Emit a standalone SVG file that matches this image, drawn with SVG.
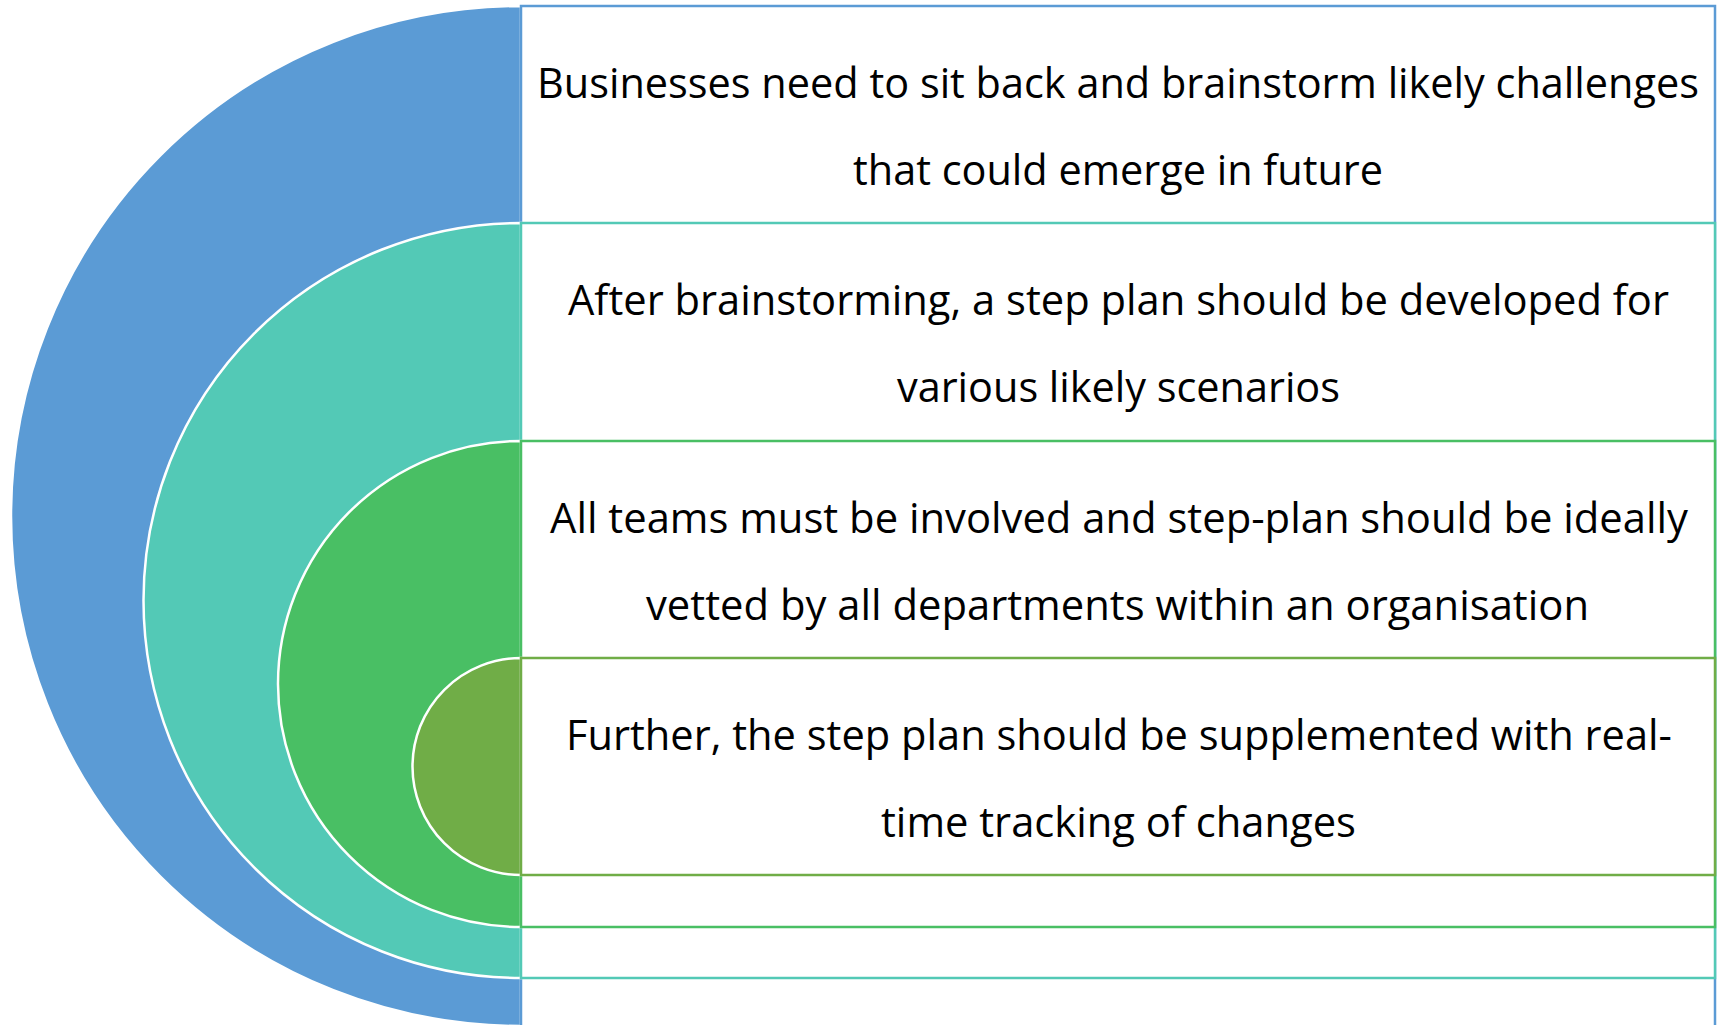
<svg xmlns="http://www.w3.org/2000/svg" width="1721" height="1025" viewBox="0 0 1721 1025">
<style>
.arc{stroke:#ffffff;stroke-width:2.5}
.box{fill:#ffffff;stroke-width:2.5}
.t{font-family:"Open Sans","Noto Sans","DejaVu Sans",sans-serif;font-size:42px;fill:#000000}
</style>
<rect x="0" y="0" width="1721" height="1025" fill="#ffffff"/>
<g id="node1">
<path class="arc" d="M521,6 A510,510 0 0 0 521,1026 Z" fill="#5B9BD5"/>
<rect class="box" x="521" y="6" width="1194" height="1030" stroke="#5B9BD5"/>
<text class="t" x="537" y="98" textLength="1162" lengthAdjust="spacingAndGlyphs">Businesses need to sit back and brainstorm likely challenges</text>
<text class="t" x="853" y="184.5" textLength="530" lengthAdjust="spacingAndGlyphs">that could emerge in future</text>
</g>
<g id="node2">
<path class="arc" d="M521,223 A377.5,377.5 0 0 0 521,978 Z" fill="#53C9B6"/>
<rect class="box" x="521" y="223" width="1194" height="755" stroke="#53C9B6"/>
<text class="t" x="568" y="315" textLength="1101" lengthAdjust="spacingAndGlyphs">After brainstorming, a step plan should be developed for</text>
<text class="t" x="897" y="401.5" textLength="443" lengthAdjust="spacingAndGlyphs">various likely scenarios</text>
</g>
<g id="node3">
<path class="arc" d="M521,441 A243,243 0 0 0 521,927 Z" fill="#49BF64"/>
<rect class="box" x="521" y="441" width="1194" height="486" stroke="#49BF64"/>
<text class="t" x="550" y="533" textLength="1138" lengthAdjust="spacingAndGlyphs">All teams must be involved and step-plan should be ideally</text>
<text class="t" x="646" y="619.5" textLength="943" lengthAdjust="spacingAndGlyphs">vetted by all departments within an organisation</text>
</g>
<g id="node4">
<path class="arc" d="M521,658 A108.5,108.5 0 0 0 521,875 Z" fill="#70AD47"/>
<rect class="box" x="521" y="658" width="1194" height="217" stroke="#70AD47"/>
<text class="t" x="566" y="750" textLength="1106" lengthAdjust="spacingAndGlyphs">Further, the step plan should be supplemented with real-</text>
<text class="t" x="881" y="836.5" textLength="475" lengthAdjust="spacingAndGlyphs">time tracking of changes</text>
</g>
<g id="connectors"></g>
</svg>
